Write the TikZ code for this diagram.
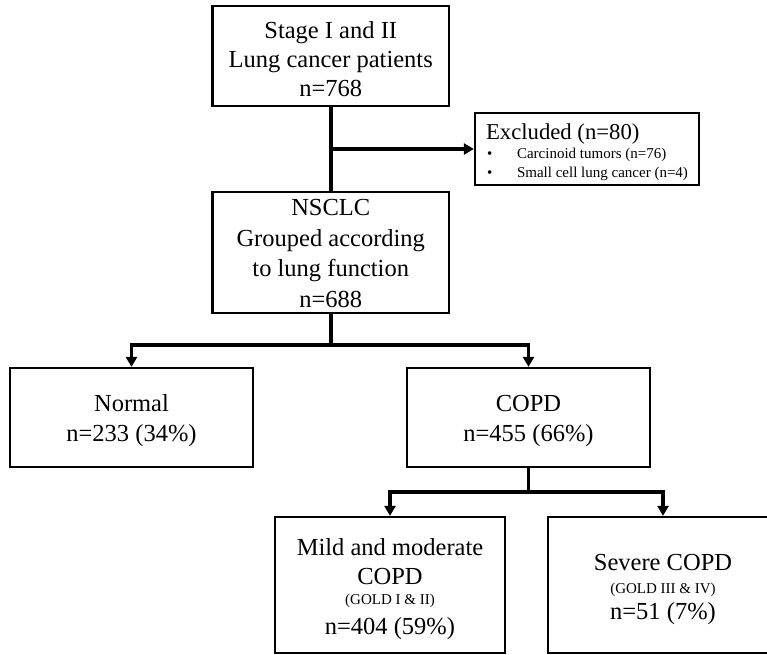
\documentclass[tikz,border=0pt]{standalone}
\usepackage{fontspec}
\setmainfont{Liberation Serif}
\usetikzlibrary{arrows.meta}
\tikzset{
  box/.style={draw, line width=2.3pt, rectangle, inner sep=0pt, align=center,
    font=\fontsize{24.5}{29.5}\selectfont},
  conn/.style={line width=3.8pt},
  arr/.style={conn, -{Triangle[length=10pt,width=11pt]}},
}
\newcommand{\smallgold}{\fontsize{15}{18}\selectfont}
\newcommand{\topstrut}[1]{\rule{0pt}{#1}}
\begin{document}
\begin{tikzpicture}[x=1pt,y=-1pt]
\useasboundingbox (0,0) rectangle (767,654);
\clip (0,0) rectangle (767,654);

\node[box, minimum width=236.5pt, minimum height=100pt,
  font=\fontsize{24.5}{29}\selectfont] (top) at (330.75,56)
  {\topstrut{22.7pt}Stage I and II\\Lung cancer patients\\n=768};

\node[box, align=left, minimum width=224pt, minimum height=72pt,
  font=\fontsize{15}{19}\selectfont] (excl) at (587,149)
  {\topstrut{21.8pt}{\fontsize{22.7}{19}\selectfont Excluded (n=80)}\\
   \makebox[31pt][l]{\hspace*{1pt}\textbullet}Carcinoid tumors (n=76)\\
   \makebox[31pt][l]{\hspace*{1pt}\textbullet}Small cell lung cancer (n=4)};

\node[box, minimum width=236.5pt, minimum height=121pt,
  font=\fontsize{24.5}{30.5}\selectfont] (nsclc) at (330.75,252.5)
  {\topstrut{18pt}NSCLC\\Grouped according\\to lung function\\n=688};

\node[box, minimum width=243pt, minimum height=99pt] (normal) at (131.5,417.5)
  {\topstrut{22.7pt}Normal\\n=233 (34\%)};
\node[box, minimum width=243pt, minimum height=99pt] (copd) at (528.5,417.5)
  {\topstrut{22.7pt}COPD\\n=455 (66\%)};

\node[box, minimum width=230pt, minimum height=136pt] (mild) at (390,585)
  {\topstrut{24.7pt}Mild and moderate\\COPD\\[-9.5pt]{\smallgold (GOLD I \& II)}\\n=404 (59\%)};
\node[box, minimum width=230pt, minimum height=136pt] (severe) at (663,585)
  {\topstrut{24.7pt}Severe COPD\\[-6pt]{\smallgold (GOLD III \& IV)}\\[-3.5pt]n=51 (7\%)};

\coordinate (j1) at (330.75,345);
\coordinate (j2) at (528.5,492);

\draw[conn] (top.south) -- (nsclc.north);
\draw[arr] (top.south |- excl.west) -- (excl.west);
\draw[conn] (nsclc.south) -- (j1);
\draw[arr] (j1) -| (normal.north);
\draw[arr] (j1) -| (copd.north);
\draw[conn] (copd.south) -- (j2);
\draw[arr] (j2) -| (mild.north);
\draw[arr] (j2) -| (severe.north);
\end{tikzpicture}
\end{document}
